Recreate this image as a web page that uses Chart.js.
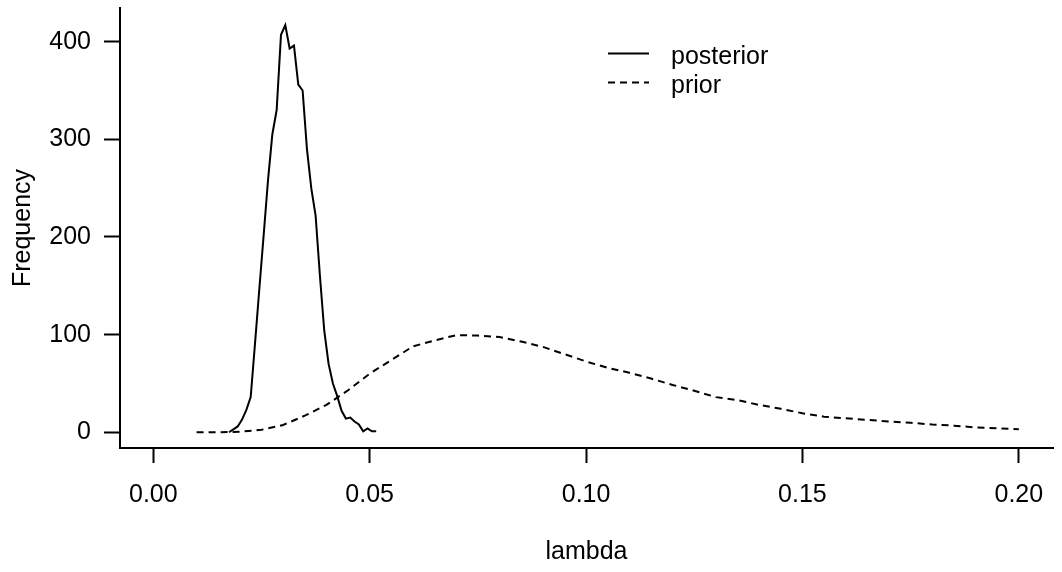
<!DOCTYPE html>
<html>
<head>
<meta charset="utf-8">
<title>posterior vs prior</title>
<script src="https://cdn.jsdelivr.net/npm/chart.js@4.4.1/dist/chart.umd.min.js"></script>
<style>
  body { margin: 0; background: #fff; }
  #wrap { width: 1062px; height: 572px; }
</style>
</head>
<body>
<div id="wrap"><canvas id="lambda-chart" width="1062" height="572"></canvas></div>
<script>
'use strict';

// histogram mids (bin width 0.001) and counts for the posterior
const postX = [0.0175, 0.0185, 0.0195, 0.0205, 0.0215, 0.0225, 0.0235, 0.0245, 0.0255, 0.0265,
  0.0275, 0.0285, 0.0295, 0.0305, 0.0315, 0.0325, 0.0335, 0.0345, 0.0355, 0.0365,
  0.0375, 0.0385, 0.0395, 0.0405, 0.0415, 0.0425, 0.0435, 0.0445, 0.0455, 0.0465,
  0.0475, 0.0485, 0.0495, 0.0505, 0.0515];
const postY = [0, 3, 6, 13, 23, 36, 91, 147, 202, 258,
  305, 330, 407, 417, 393, 396, 356, 350, 290, 250,
  222, 160, 104, 70, 50, 37, 22, 14, 15, 11,
  8, 1, 4, 1, 1];

const priorX = [0.010, 0.015, 0.020, 0.025, 0.030, 0.035, 0.040, 0.045, 0.050, 0.055,
  0.060, 0.065, 0.070, 0.075, 0.080, 0.085, 0.090, 0.095, 0.100, 0.105,
  0.110, 0.115, 0.120, 0.125, 0.130, 0.135, 0.140, 0.145, 0.150, 0.155,
  0.160, 0.165, 0.170, 0.175, 0.180, 0.185, 0.190, 0.195, 0.200];
const priorY = [0, 0, 0.5, 2.5, 7.5, 17, 28, 43, 60, 74,
  88, 94, 99.5, 99, 97.5, 93, 87.5, 80, 72.5, 66,
  61, 55, 48.5, 42.5, 36, 33, 28, 24, 19.5, 16,
  14.3, 12.7, 11, 9.7, 8, 6.8, 5, 4, 3.2];

const seriesNames = ['posterior', 'prior'];
const xTicks = [0, 0.05, 0.10, 0.15, 0.20];
const yTicks = [0, 100, 200, 300, 400];

Chart.defaults.font.family = '"Liberation Sans", Arial, sans-serif';
Chart.defaults.font.size = 25;
Chart.defaults.color = '#000';

const toPoints = function(xs, ys) {
  let pts = [];
  for (let i = 0; i < xs.length; i++) {
    pts.push({ x: xs[i], y: ys[i] });
  }
  return pts;
};

// R style legend: short line sample, then the label
const lineLegend = {
  id: 'lineLegend',
  afterDraw(chart) {
    const ctx = chart.ctx;
    const sets = chart.data.datasets;
    ctx.save();
    ctx.font = '25px "Liberation Sans", Arial, sans-serif';
    ctx.fillStyle = '#000';
    ctx.textBaseline = 'alphabetic';
    ctx.textAlign = 'left';
    for (let i = 0; i < sets.length; i++) {
      const y = 53.5 + i * 29;
      ctx.beginPath();
      ctx.lineWidth = sets[i].borderWidth;
      ctx.strokeStyle = '#000';
      ctx.setLineDash(sets[i].borderDash || []);
      ctx.moveTo(608, y);
      ctx.lineTo(649, y);
      ctx.stroke();
      ctx.setLineDash([]);
      ctx.fillText(sets[i].label, 671, y + 10);
    }
    ctx.restore();
  }
};

const ctx = document.getElementById('lambda-chart').getContext('2d');

const myChart = new Chart(ctx, {
  type: 'line',
  data: {
    datasets: [{
      label: seriesNames[0],
      data: toPoints(postX, postY),
      borderColor: '#000',
      borderWidth: 2,
      pointRadius: 0,
      tension: 0,
      fill: false
    }, {
      label: seriesNames[1],
      data: toPoints(priorX, priorY),
      borderColor: '#000',
      borderWidth: 2,
      borderDash: [7, 5],
      pointRadius: 0,
      tension: 0,
      fill: false
    }]
  },
  options: {
    responsive: false,
    animation: false,
    layout: { padding: { top: 8, right: 9, left: 0, bottom: 0 } },
    plugins: {
      legend: { display: false },
      tooltip: { enabled: false }
    },
    scales: {
      x: {
        type: 'linear',
        min: -0.0077,
        max: 0.2079,
        afterBuildTicks: function(scale) {
          scale.ticks = xTicks.map(v => ({ value: v }));
        },
        afterFit: function(scale) {
          scale.height = 124;
          scale.paddingLeft = 0;
          scale.paddingRight = 0;
        },
        ticks: {
          padding: 17,
          maxRotation: 0,
          callback: function(value) {
            return value.toFixed(2);
          }
        },
        grid: {
          drawOnChartArea: false,
          tickLength: 15,
          tickWidth: 2,
          tickColor: '#000'
        },
        border: { display: true, color: '#000', width: 2 },
        title: {
          display: true,
          text: 'lambda',
          padding: { top: 0, bottom: 5 }
        }
      },
      y: {
        type: 'linear',
        min: -16.1,
        max: 434.5,
        afterBuildTicks: function(scale) {
          scale.ticks = yTicks.map(v => ({ value: v }));
        },
        afterFit: function(scale) {
          scale.width = 120;
          scale.paddingTop = 0;
          scale.paddingBottom = 0;
        },
        ticks: {
          padding: 13,
          callback: function(value) {
            return String(value);
          }
        },
        grid: {
          drawOnChartArea: false,
          tickLength: 16,
          tickWidth: 2,
          tickColor: '#000'
        },
        border: { display: true, color: '#000', width: 2 },
        title: {
          display: true,
          text: 'Frequency',
          padding: { top: 8, bottom: 0 }
        }
      }
    }
  },
  plugins: [lineLegend]
});
</script>
</body>
</html>
